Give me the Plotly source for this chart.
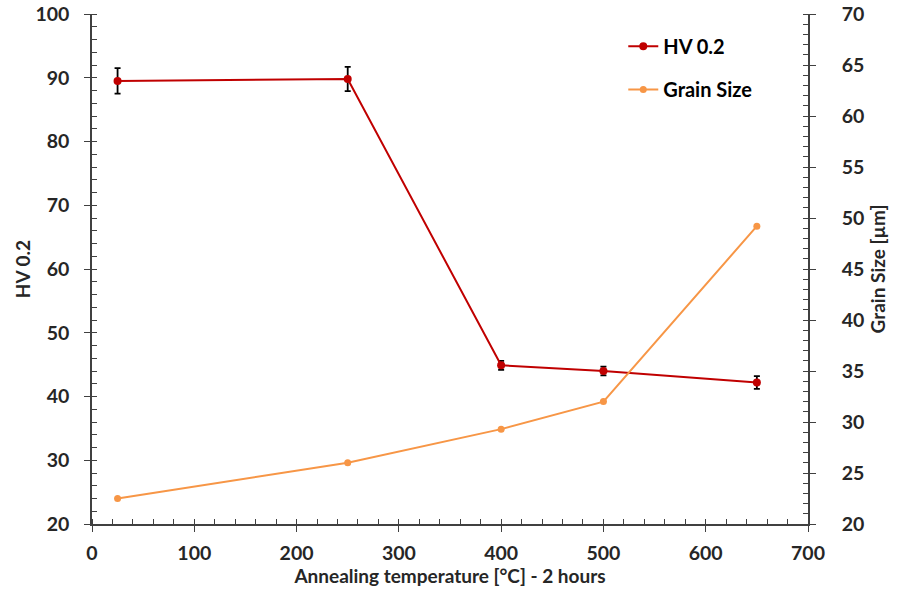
import plotly.graph_objects as go

temps = [25, 250, 400, 500, 650]
hv = [89.5, 89.8, 44.9, 44.0, 42.2]
hv_err = [2.0, 1.9, 0.7, 0.7, 1.0]
grain = [22.5, 26.0, 29.3, 32.0, 49.2]

RED = "#C00000"
ORANGE = "#F79646"
FONT = "Lato"
TXT = "#262626"
AX = "#404040"

fig = go.Figure()
fig.add_trace(go.Scatter(
    x=temps, y=hv, name="HV 0.2", mode="lines+markers",
    line=dict(color=RED, width=2), marker=dict(color=RED, size=8),
    error_y=dict(type="data", array=hv_err, color="black", thickness=1.8, width=3),
    legend="legend"))
fig.add_trace(go.Scatter(
    x=temps, y=grain, name="Grain Size", mode="lines+markers", yaxis="y2",
    line=dict(color=ORANGE, width=2), marker=dict(color=ORANGE, size=7),
    legend="legend2"))

tickfont = dict(family=FONT, size=19.5, color=TXT, weight="bold")
titlefont = dict(family=FONT, size=19, color=TXT, weight="bold")
axis_common = dict(showline=True, linecolor=AX, linewidth=1.5, ticks="outside",
                   tickcolor=AX, ticklen=6, tickwidth=1.3, showgrid=False, zeroline=False,
                   tickfont=tickfont, mirror=False, automargin=False,
                   ticklabeloverflow="allow")
inner = dict(showline=False, ticks="inside", ticklen=6, tickwidth=1.3, tickcolor=AX,
             showticklabels=False, showgrid=False, zeroline=False, automargin=False)

fig.update_layout(
    width=899, height=596, plot_bgcolor="white", paper_bgcolor="white",
    margin=dict(l=92, r=91, t=14, b=72, autoexpand=False),
    font=dict(family=FONT, color=TXT),
    xaxis=dict(range=[0, 700], dtick=100, tick0=0, ticklabelstandoff=5,
               minor=dict(dtick=20, ticks="inside", ticklen=5, tickcolor=AX, tickwidth=1.2),
               title=dict(text="Annealing temperature [°C] - 2 hours", font=titlefont, standoff=6),
               **axis_common),
    xaxis2=dict(range=[0, 700], dtick=100, tick0=0, overlaying="x", side="bottom", **inner),
    yaxis=dict(range=[20, 100], dtick=10, tick0=0, ticklabelstandoff=11,
               minor=dict(dtick=2, ticks="inside", ticklen=5, tickcolor=AX, tickwidth=1.2),
               title=dict(text="HV 0.2", font=titlefont, standoff=0),
               **axis_common),
    yaxis3=dict(range=[20, 100], dtick=10, tick0=0, overlaying="y", side="left", **inner),
    yaxis2=dict(range=[20, 70], dtick=5, tick0=0, overlaying="y", side="right", ticklabelstandoff=22,
                minor=dict(dtick=1, ticks="inside", ticklen=5, tickcolor=AX, tickwidth=1.2),
                title=dict(text="Grain Size [µm]", font=titlefont, standoff=8),
                **axis_common),
    yaxis4=dict(range=[20, 70], dtick=5, tick0=0, overlaying="y", side="right", **inner),
    legend=dict(x=0.742, y=0.975, xanchor="left", yanchor="top", bgcolor="rgba(0,0,0,0)",
                font=dict(family=FONT, size=20, color="#000000", weight="bold"), itemwidth=30),
    legend2=dict(x=0.742, y=0.89, xanchor="left", yanchor="top", bgcolor="rgba(0,0,0,0)",
                 font=dict(family=FONT, size=20, color="#000000", weight="bold"), itemwidth=30),
    showlegend=True,
)
fig.write_html("out.html", config={"displayModeBar": False},
               post_script="document.body.style.margin='0';")
